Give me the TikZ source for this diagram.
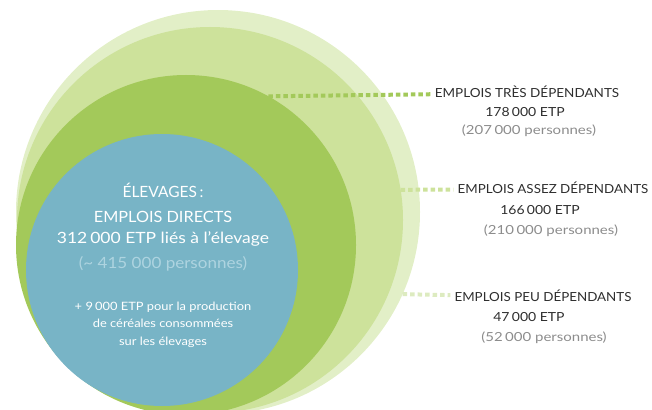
\documentclass[tikz,border=0pt]{standalone}
\usepackage{graphicx}
\usepackage{fontspec}
\setmainfont{Lato}
\definecolor{ringA}{HTML}{E2EFC7}
\definecolor{ringB}{HTML}{CDE29B}
\definecolor{ringC}{HTML}{A3C95A}
\definecolor{core}{HTML}{78B4C6}
\definecolor{dark}{HTML}{2E2E2E}
\definecolor{soft}{HTML}{8C8C8C}
\definecolor{paleblue}{HTML}{AED4E0}
\definecolor{leadA}{HTML}{DDEBC0}
\newcommand{\hstretch}[2]{\scalebox{#1}[1]{#2}}
\begin{document}
\begin{tikzpicture}[x=1pt,y=-1pt,
 disc/.style={circle,inner sep=0pt,outer sep=0pt,draw=none},
 title/.style={font=\fontsize{12.5}{14}\selectfont,text=dark,text height=9pt,text depth=0pt,inner sep=4pt},
 etp/.style={font=\fontsize{12.5}{14}\selectfont,text=dark,anchor=base,inner sep=0pt},
 pers/.style={font=\fontsize{12.5}{14}\selectfont,text=soft,anchor=base,inner sep=0pt},
 big/.style={font=\fontsize{15.5}{18}\selectfont,text=white,anchor=base,inner sep=0pt},
 small/.style={font=\fontsize{11.5}{13}\selectfont,text=white,anchor=base,inner sep=0pt},
 lead/.style={line width=4pt,dash pattern=on 4.5pt off 3pt}]
\useasboundingbox (0,0) rectangle (652,409);
\begin{scope}
\clip (0,0) rectangle (652,409);
\node[disc,fill=ringA,minimum size=404pt] (c1) at (218,212) {};
\node[disc,fill=ringB,minimum size=386pt] (c2) at (210,220) {};
\node[disc,fill=ringC,minimum size=340pt] (c3) at (186,245) {};
\node[disc,fill=core,minimum size=272pt] (c4) at (162,270) {};
\end{scope}
% right texts
\node[title] (t1) at (527,93) {\hstretch{1.08}{EMPLOIS TRÈS DÉPENDANTS}};
\node[etp] (e1) at (525,116.5) {\hstretch{1.12}{178\,000 ETP}};
\node[pers] (p1) at (529,134.5) {\hstretch{1.2}{(207\,000 personnes)}};
\node[title] (t2) at (553,189) {\hstretch{1.07}{EMPLOIS ASSEZ DÉPENDANTS}};
\node[etp] (e2) at (540,214) {\hstretch{1.12}{166\,000 ETP}};
\node[pers] (p2) at (551,234) {\hstretch{1.2}{(210\,000 personnes)}};
\node[title] (t3) at (543,297) {\hstretch{1.07}{EMPLOIS PEU DÉPENDANTS}};
\node[etp] (e3) at (529,321.5) {\hstretch{1.12}{47\,000 ETP}};
\node[pers] (p3) at (544,341.5) {\hstretch{1.2}{(52\,000 personnes)}};
% leaders
\draw[lead,ringC] (c3.61.9) -- (t1);
\draw[lead,ringB] (c2.9.2) -- (t2);
\draw[lead,leadA] (c1.-24.9) -- (t3);
% core texts
\node[big] (b1) at (163,197.5) {ÉLEVAGES\,:};
\node[big] (b2) at (163,222.5) {\hstretch{1.05}{EMPLOIS DIRECTS}};
\node[big] (b3) at (163,243.5) {\hstretch{1.13}{312\,000 ETP liés à l’élevage}};
\node[big,text=paleblue] (b4) at (163,268.5) {\hstretch{1.1}{(\textasciitilde\ 415 000 personnes)}};
\node[small] (s1) at (163,310) {\hstretch{1.12}{+ 9\,000 ETP pour la production}};
\node[small] (s2) at (163,327.5) {\hstretch{1.12}{de céréales consommées}};
\node[small] (s3) at (163,345) {\hstretch{1.12}{sur les élevages}};
\end{tikzpicture}
\end{document}
